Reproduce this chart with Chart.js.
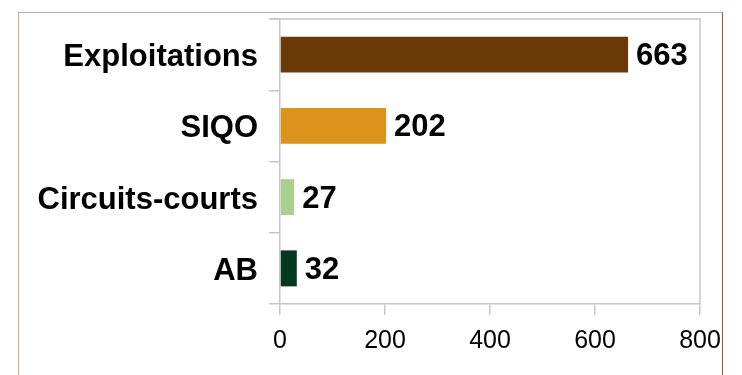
<!DOCTYPE html>
<html>
<head>
<meta charset="utf-8">
<script src="https://cdn.jsdelivr.net/npm/chart.js@4/dist/chart.umd.min.js"></script>
<style>
	html, body { margin: 0; padding: 0; background: #fff; }
	#wrap { position: relative; width: 742px; height: 375px; overflow: hidden; }
	#frame {
		position: absolute; left: 18px; top: 12px; width: 703px; height: 400px;
		border-left: 1px solid #c9aa8c; border-top: 1px solid #c9aa8c; border-right: 1px solid #8c5a2a;
	}
	#chart { position: absolute; left: 0; top: 0; }
</style>
</head>
<body>
<div id="wrap">
	<div id="frame"></div>
	<canvas id="chart" width="742" height="375"></canvas>
</div>
<script>
let categories = ["Exploitations", "SIQO", "Circuits-courts", "AB"];
let counts = [663, 202, 27, 32];
let barColors = ["#693806", "#dc921b", "#a9d18e", "#033a1f"];
let xTicks = [0, 200, 400, 600, 800];

let gridColor = "#c6c6c6";
let fontFamily = "'Liberation Sans', Arial, sans-serif";

// value printed after each bar end
let valueLabels = {
	id: "valueLabels",
	afterDatasetsDraw(chart) {
		let ctx = chart.ctx;
		let meta = chart.getDatasetMeta(0);
		ctx.save();
		ctx.font = "bold 31px " + fontFamily;
		ctx.fillStyle = "#000";
		ctx.textAlign = "left";
		ctx.textBaseline = "middle";
		meta.data.forEach((bar, i) => {
			ctx.fillText(String(counts[i]), bar.x + 8, bar.y + 2);
		});
		ctx.restore();
	}
};

// grey frame round the plot area
let plotFrame = {
	id: "plotFrame",
	beforeDatasetsDraw(chart) {
		let a = chart.chartArea;
		let ctx = chart.ctx;
		ctx.save();
		ctx.strokeStyle = gridColor;
		ctx.lineWidth = 1.5;
		ctx.beginPath();
		ctx.moveTo(a.left - 11, a.top);
		ctx.lineTo(a.right, a.top);
		ctx.lineTo(a.right, a.bottom);
		ctx.stroke();
		ctx.restore();
	}
};

let ctx = document.getElementById("chart").getContext("2d");

new Chart(ctx, {
	type: "bar",
	data: {
		labels: categories,
		datasets: [{
			data: counts,
			backgroundColor: barColors,
			categoryPercentage: 1,
			barPercentage: 0.505
		}]
	},
	plugins: [plotFrame, valueLabels],
	options: {
		indexAxis: "y",
		responsive: false,
		animation: false,
		layout: { padding: { top: 19, right: 42, left: 0, bottom: 0 } },
		plugins: {
			legend: { display: false },
			tooltip: { enabled: false }
		},
		scales: {
			x: {
				min: 0,
				max: 800,
				afterBuildTicks(scale) {
					scale.ticks = xTicks.map(v => ({ value: v }));
				},
				afterFit(scale) {
					scale.height = 71;
					scale.paddingLeft = 0;
					scale.paddingRight = 0;
				},
				border: { color: gridColor, width: 1.5 },
				grid: { drawOnChartArea: false, color: gridColor, lineWidth: 1.5, tickLength: 11 },
				ticks: {
					color: "#000",
					padding: 11,
					maxRotation: 0,
					font: { family: fontFamily, size: 25 }
				}
			},
			y: {
				afterFit(scale) {
					scale.width = 280;
					scale.paddingTop = 0;
					scale.paddingBottom = 0;
				},
				border: { color: gridColor, width: 1.5 },
				grid: { drawOnChartArea: false, color: gridColor, lineWidth: 1.5, tickLength: 11 },
				ticks: {
					color: "#000",
					padding: 11,
					labelOffset: 3,
					font: { family: fontFamily, size: 31, weight: "bold" }
				}
			}
		}
	}
});
</script>
</body>
</html>
